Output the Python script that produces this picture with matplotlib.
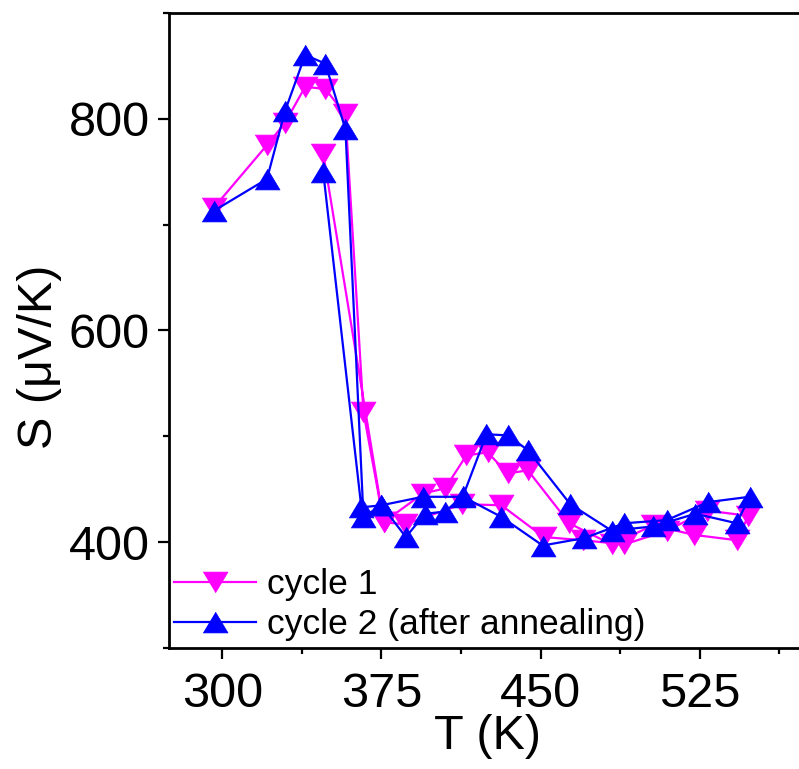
import matplotlib
matplotlib.use("Agg")
import matplotlib.pyplot as plt
from matplotlib.ticker import MultipleLocator

plt.rcParams['font.family'] = ['Liberation Sans', 'DejaVu Sans']

# cycle 1: heating then cooling back (loop)
T1 = [296, 321, 329.5, 339, 348.5, 358, 366.5, 376, 394.5, 405, 415, 425, 434.5, 444,
      463.5, 483.5, 503, 522.5, 542.5, 548, 528.5, 509.5, 489.5, 470, 451.5, 431.5,
      413, 386, 376, 347.5]
S1 = [716, 775, 796, 830, 828, 804, 523, 419, 446, 451, 482, 485, 465, 468,
      418, 398, 416, 407, 402, 425, 430, 411, 398, 402, 405, 435,
      436, 417, 419, 767]

# cycle 2 (after annealing)
T2 = [296, 321, 329.5, 339, 348.5, 358, 366.5, 375, 386.5, 395.5, 405, 413.5, 424.5,
      434.5, 444, 464, 483.5, 503, 523, 542.5, 548.5, 529, 509.5, 489.5, 470.5, 451,
      431.5, 413.5, 394.5, 375, 365.5, 347.5]
S2 = [713, 743, 807, 860, 852, 790, 424, 435, 405, 427, 429, 444, 502,
      501, 487, 436, 411, 415, 427, 418, 443, 438, 421, 418, 404, 397,
      424, 443, 443, 435, 433, 750]

labels = ['cycle 1', 'cycle 2 (after annealing)']

tri_down = [(-1.2, 1), (1.2, 1), (0, -1)]
tri_up = [(-1.2, -1), (1.2, -1), (0, 1)]

fig = plt.figure(figsize=(7.99, 7.69), dpi=100)
ax = fig.add_axes([0.212, 0.157, 0.7964, 0.8265])

ax.plot(T1, S1, color='#ff00ff', lw=1.6, marker=tri_down, ms=18, mec='#ff00ff',
        mew=0.5, label=labels[0])
ax.plot(T2, S2, color='#0000ff', lw=1.6, marker=tri_up, ms=18, mec='#0000ff',
        mew=0.5, label=labels[1])

ax.set_xlim(275, 575)
ax.set_ylim(300, 900)
ax.xaxis.set_major_locator(MultipleLocator(75))
ax.xaxis.set_minor_locator(MultipleLocator(37.5))
ax.yaxis.set_major_locator(MultipleLocator(200))
ax.yaxis.set_minor_locator(MultipleLocator(100))

for s in ['left', 'bottom', 'top']:
    ax.spines[s].set_linewidth(2)
ax.spines['right'].set_visible(False)

ax.tick_params(which='major', length=8, width=1.6, labelsize=35)
ax.tick_params(which='minor', length=4, width=1.6)
ax.tick_params(axis='x', which='major', pad=9)
ax.tick_params(axis='y', which='major', pad=6)

ax.set_xlabel('T (K)', fontsize=35, labelpad=-2)
ax.set_ylabel('S (μV/K)', fontsize=35)
ax.yaxis.set_label_coords(-0.169, 0.458)

ax.legend(loc='upper left', bbox_to_anchor=(0.008, 0.126), frameon=False,
          fontsize=25.5, handlelength=2.3, handletextpad=0.3, labelspacing=0.19,
          borderpad=0, borderaxespad=0)

plt.savefig('out.png', dpi=100)
